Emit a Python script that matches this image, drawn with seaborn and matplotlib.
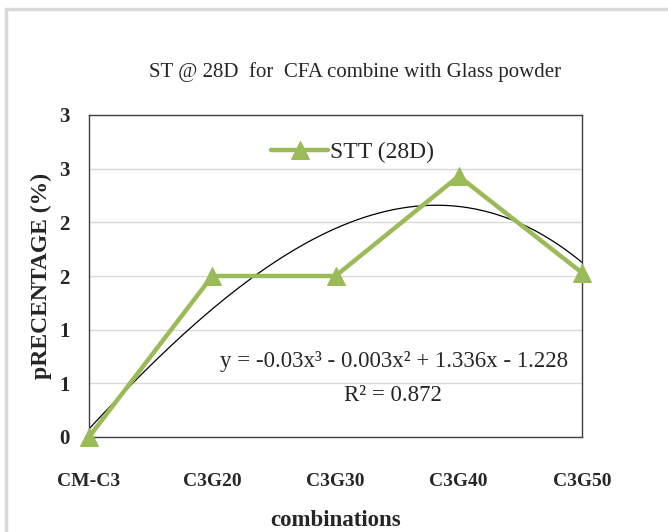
import numpy as np
import pandas as pd
import matplotlib
matplotlib.use("Agg")
import matplotlib.pyplot as plt
from matplotlib.lines import Line2D
import seaborn as sns

# === Data ===
combinations = ["CM-C3", "C3G20", "C3G30", "C3G40", "C3G50"]
stt_28d = [0.0, 1.5, 1.5, 2.43, 1.53]
trend_coefs = [-0.03, -0.003, 1.336, -1.228]   # cubic trendline from the chart label
r_squared = 0.872
y_ticks = [0, 0.5, 1, 1.5, 2, 2.5, 3]
y_tick_labels = ["0", "1", "1", "2", "2", "3", "3"]

df = pd.DataFrame({"x": np.arange(1, len(combinations) + 1), "value": stt_28d})

# === Style ===
sns.set_style("white")
plt.rcParams["font.family"] = ["Liberation Serif", "DejaVu Serif"]
green = "#9BBB59"

fig = plt.figure(figsize=(6.68, 5.32), dpi=100)
ax = fig.add_axes([89 / 668, 95 / 532, 493 / 668, 322 / 532])

# outer chart border (light gray)
fig.add_artist(Line2D([6 / 668, 6 / 668], [0, 1 - 9 / 532], color="#d9d9d9", lw=2.5))
fig.add_artist(Line2D([6 / 668, 1], [1 - 9 / 532, 1 - 9 / 532], color="#d9d9d9", lw=2.5))

# === Trendline ===
xs = np.linspace(1, 5, 200)
ax.plot(xs, np.polyval(trend_coefs, xs), color="black", lw=0.9, zorder=2)

# === Main series ===
sns.lineplot(data=df, x="x", y="value", ax=ax, color=green, lw=3.2, marker="^",
             markersize=13, markeredgecolor=green, label="STT (28D)", zorder=3, clip_on=False)

ax.set_xlim(1, 5)
ax.set_ylim(0, 3)
ax.set_yticks(y_ticks)
ax.set_yticklabels(y_tick_labels, fontsize=15, fontweight="bold")
ax.set_xticks(df["x"])
ax.set_xticklabels(combinations, fontsize=14, fontweight="bold")
ax.tick_params(axis="both", length=0)
ax.tick_params(axis="x", pad=26)
ax.tick_params(axis="y", pad=14)
ax.yaxis.grid(True, color="#d9d9d9", lw=1)
ax.set_axisbelow(True)
for s in ax.spines.values():
    s.set_color("#404040")
    s.set_linewidth(1)

ax.set_xlabel("combinations", fontsize=16.5, fontweight="bold", labelpad=14)
ax.set_ylabel("pRECENTAGE (%)", fontsize=17, fontweight="bold", labelpad=5)
fig.text(355 / 668, 1 - 72 / 532, "ST @ 28D  for  CFA combine with Glass powder",
         ha="center", va="center", fontsize=15)

leg = ax.legend(loc="center", bbox_to_anchor=(0.535, 0.885), frameon=False,
                fontsize=17, handlelength=2.4, handletextpad=0.1)

ax.text(0.619, 0.236, "y = -0.03x³ - 0.003x² + 1.336x - 1.228", transform=ax.transAxes,
        ha="center", va="center", fontsize=16.5)
ax.text(0.617, 0.13, f"R² = {r_squared}", transform=ax.transAxes,
        ha="center", va="center", fontsize=16.5)

fig.savefig("out.png", dpi=100)
